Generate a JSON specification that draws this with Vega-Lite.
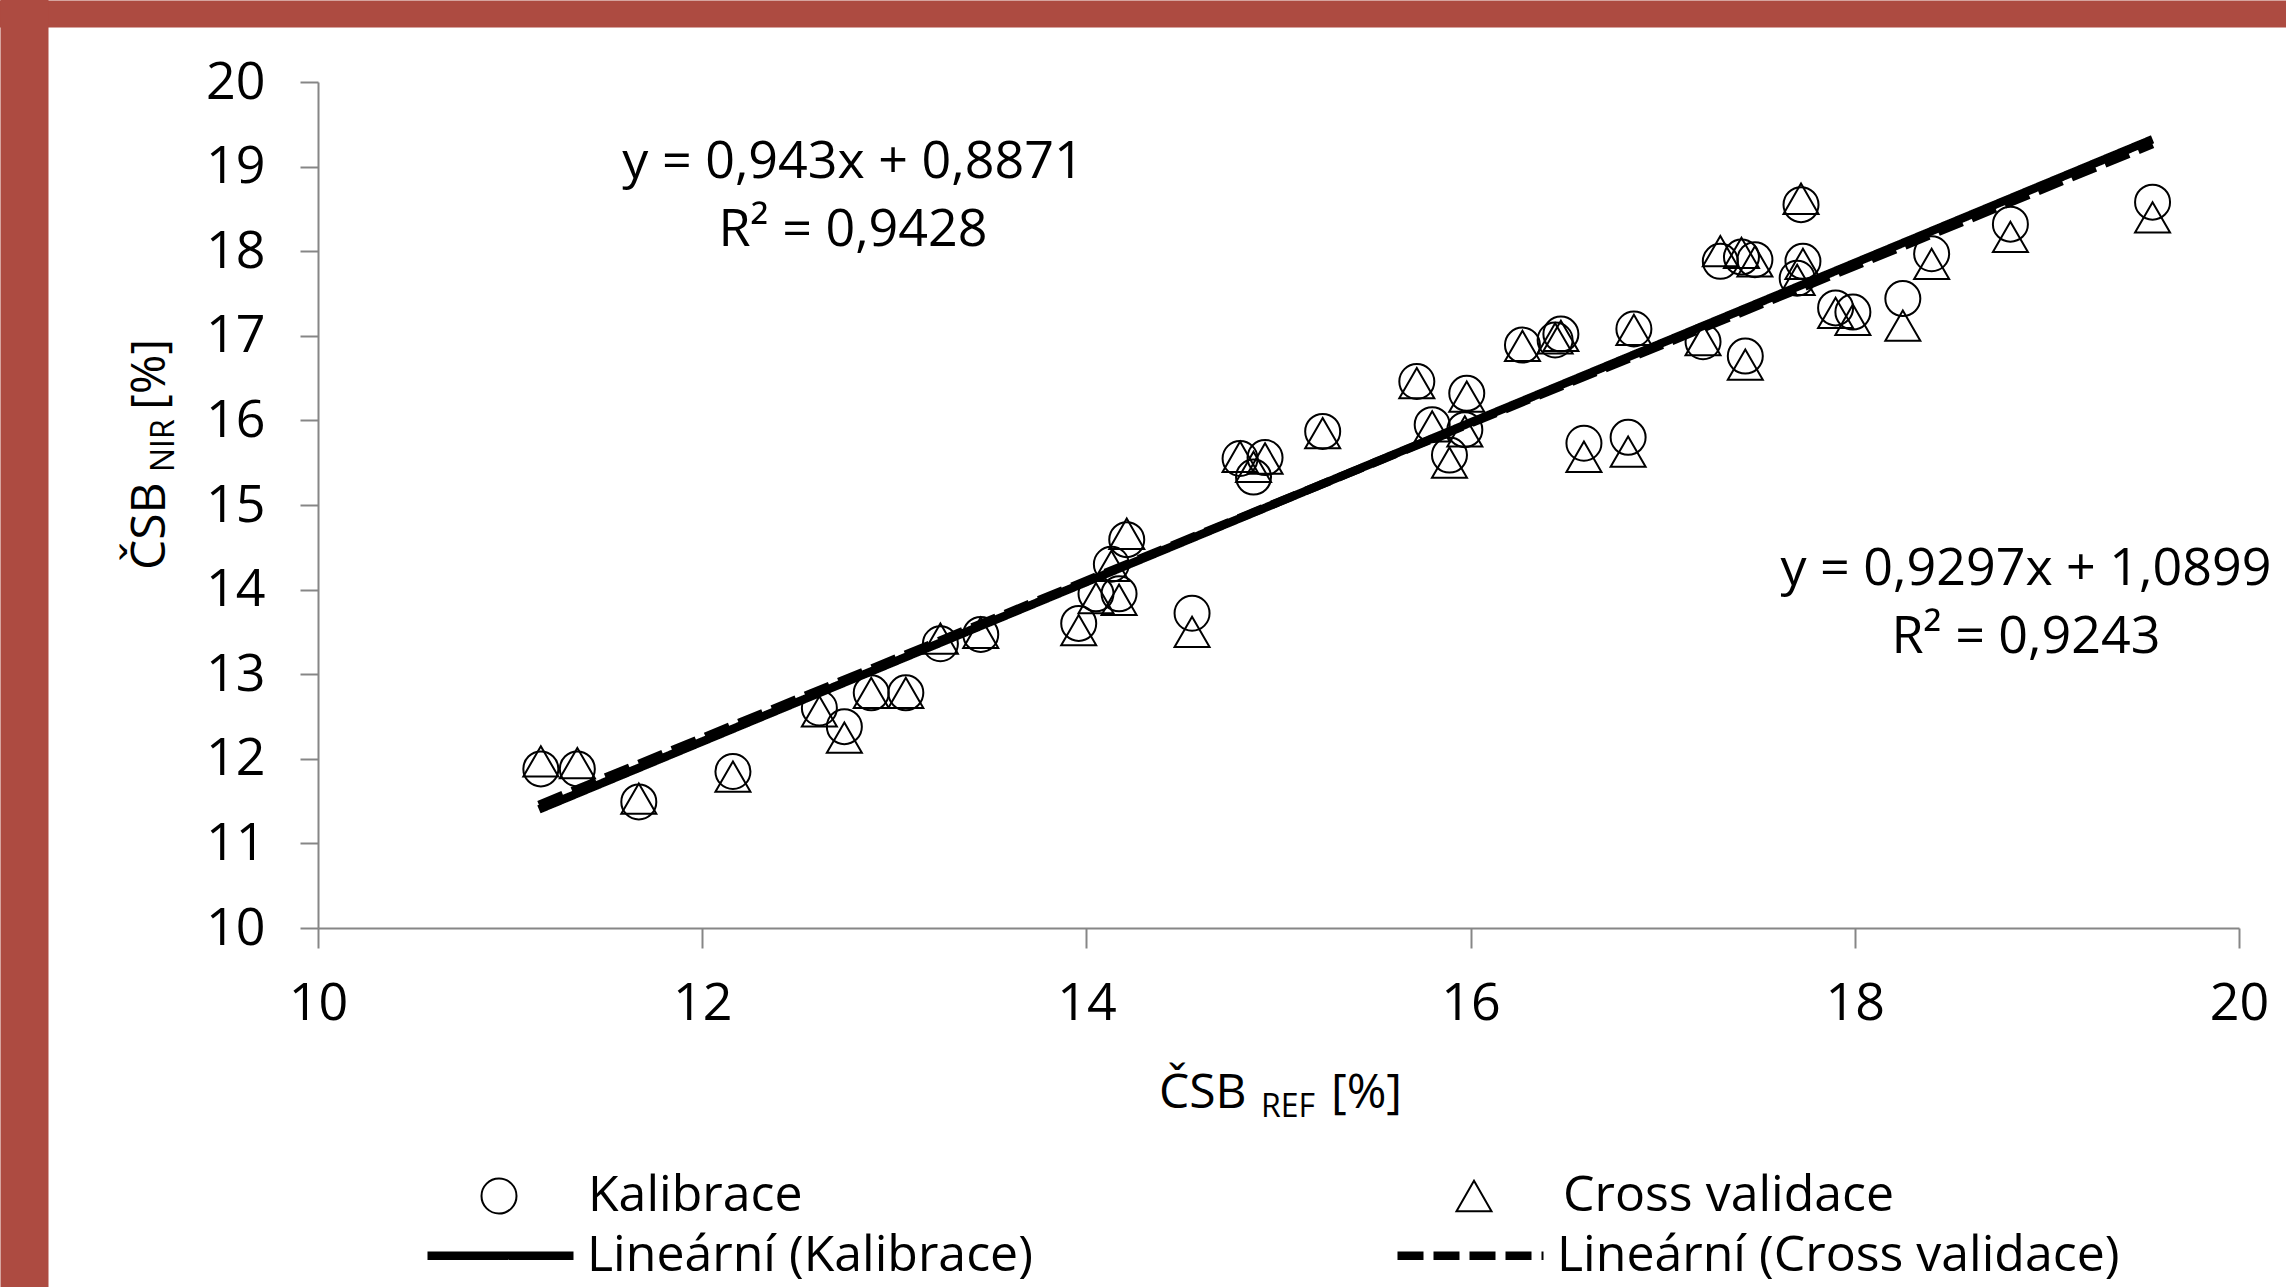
{
  "$schema": "https://vega.github.io/schema/vega-lite/v6.json",
  "autosize": {"type": "none"},
  "width": 1921,
  "height": 846,
  "padding": {"left": 318, "top": 82, "right": 47, "bottom": 359},
  "background": "white",
  "config": {
    "view": {"stroke": null},
    "font": "Open Sans",
    "text": {"font": "Open Sans", "color": "black"}
  },
  "datasets": {
    "points": [
      {"ref": 11.16, "nir": 11.88, "series": "Kalibrace"}, {"ref": 11.16, "nir": 11.97, "series": "Cross validace"},
      {"ref": 11.35, "nir": 11.88, "series": "Kalibrace"}, {"ref": 11.35, "nir": 11.95, "series": "Cross validace"},
      {"ref": 11.67, "nir": 11.49, "series": "Kalibrace"}, {"ref": 11.67, "nir": 11.53, "series": "Cross validace"},
      {"ref": 12.16, "nir": 11.85, "series": "Kalibrace"}, {"ref": 12.16, "nir": 11.79, "series": "Cross validace"},
      {"ref": 12.61, "nir": 12.60, "series": "Kalibrace"}, {"ref": 12.61, "nir": 12.56, "series": "Cross validace"},
      {"ref": 12.74, "nir": 12.38, "series": "Kalibrace"}, {"ref": 12.74, "nir": 12.25, "series": "Cross validace"},
      {"ref": 12.88, "nir": 12.78, "series": "Kalibrace"}, {"ref": 12.88, "nir": 12.78, "series": "Cross validace"},
      {"ref": 13.06, "nir": 12.78, "series": "Kalibrace"}, {"ref": 13.06, "nir": 12.78, "series": "Cross validace"},
      {"ref": 13.24, "nir": 13.36, "series": "Kalibrace"}, {"ref": 13.24, "nir": 13.42, "series": "Cross validace"},
      {"ref": 13.45, "nir": 13.47, "series": "Kalibrace"}, {"ref": 13.45, "nir": 13.49, "series": "Cross validace"},
      {"ref": 13.96, "nir": 13.60, "series": "Kalibrace"}, {"ref": 13.96, "nir": 13.52, "series": "Cross validace"},
      {"ref": 14.05, "nir": 13.95, "series": "Kalibrace"}, {"ref": 14.05, "nir": 13.90, "series": "Cross validace"},
      {"ref": 14.13, "nir": 14.30, "series": "Kalibrace"}, {"ref": 14.13, "nir": 14.28, "series": "Cross validace"},
      {"ref": 14.17, "nir": 13.95, "series": "Kalibrace"}, {"ref": 14.17, "nir": 13.88, "series": "Cross validace"},
      {"ref": 14.21, "nir": 14.59, "series": "Kalibrace"}, {"ref": 14.21, "nir": 14.66, "series": "Cross validace"},
      {"ref": 14.55, "nir": 13.72, "series": "Kalibrace"}, {"ref": 14.55, "nir": 13.50, "series": "Cross validace"},
      {"ref": 14.80, "nir": 15.55, "series": "Kalibrace"}, {"ref": 14.80, "nir": 15.57, "series": "Cross validace"},
      {"ref": 14.87, "nir": 15.33, "series": "Kalibrace"}, {"ref": 14.87, "nir": 15.45, "series": "Cross validace"},
      {"ref": 14.93, "nir": 15.56, "series": "Kalibrace"}, {"ref": 14.93, "nir": 15.55, "series": "Cross validace"},
      {"ref": 15.23, "nir": 15.87, "series": "Kalibrace"}, {"ref": 15.23, "nir": 15.85, "series": "Cross validace"},
      {"ref": 15.72, "nir": 16.46, "series": "Kalibrace"}, {"ref": 15.72, "nir": 16.44, "series": "Cross validace"},
      {"ref": 15.80, "nir": 15.95, "series": "Kalibrace"}, {"ref": 15.80, "nir": 15.93, "series": "Cross validace"},
      {"ref": 15.89, "nir": 15.59, "series": "Kalibrace"}, {"ref": 15.89, "nir": 15.50, "series": "Cross validace"},
      {"ref": 15.97, "nir": 15.89, "series": "Kalibrace"}, {"ref": 15.97, "nir": 15.87, "series": "Cross validace"},
      {"ref": 15.98, "nir": 16.32, "series": "Kalibrace"}, {"ref": 15.98, "nir": 16.28, "series": "Cross validace"},
      {"ref": 16.27, "nir": 16.89, "series": "Kalibrace"}, {"ref": 16.27, "nir": 16.88, "series": "Cross validace"},
      {"ref": 16.44, "nir": 16.95, "series": "Kalibrace"}, {"ref": 16.44, "nir": 16.97, "series": "Cross validace"},
      {"ref": 16.47, "nir": 17.02, "series": "Kalibrace"}, {"ref": 16.47, "nir": 17.00, "series": "Cross validace"},
      {"ref": 16.59, "nir": 15.73, "series": "Kalibrace"}, {"ref": 16.59, "nir": 15.57, "series": "Cross validace"},
      {"ref": 16.82, "nir": 15.80, "series": "Kalibrace"}, {"ref": 16.82, "nir": 15.63, "series": "Cross validace"},
      {"ref": 16.85, "nir": 17.08, "series": "Kalibrace"}, {"ref": 16.85, "nir": 17.07, "series": "Cross validace"},
      {"ref": 17.21, "nir": 16.93, "series": "Kalibrace"}, {"ref": 17.21, "nir": 16.95, "series": "Cross validace"},
      {"ref": 17.30, "nir": 17.88, "series": "Kalibrace"}, {"ref": 17.30, "nir": 18.00, "series": "Cross validace"},
      {"ref": 17.41, "nir": 17.93, "series": "Kalibrace"}, {"ref": 17.41, "nir": 17.98, "series": "Cross validace"},
      {"ref": 17.43, "nir": 16.76, "series": "Kalibrace"}, {"ref": 17.43, "nir": 16.66, "series": "Cross validace"},
      {"ref": 17.48, "nir": 17.90, "series": "Kalibrace"}, {"ref": 17.48, "nir": 17.88, "series": "Cross validace"},
      {"ref": 17.70, "nir": 17.68, "series": "Kalibrace"}, {"ref": 17.70, "nir": 17.66, "series": "Cross validace"},
      {"ref": 17.72, "nir": 18.55, "series": "Kalibrace"}, {"ref": 17.72, "nir": 18.62, "series": "Cross validace"},
      {"ref": 17.73, "nir": 17.88, "series": "Kalibrace"}, {"ref": 17.73, "nir": 17.85, "series": "Cross validace"},
      {"ref": 17.90, "nir": 17.33, "series": "Kalibrace"}, {"ref": 17.90, "nir": 17.27, "series": "Cross validace"},
      {"ref": 17.99, "nir": 17.28, "series": "Kalibrace"}, {"ref": 17.99, "nir": 17.19, "series": "Cross validace"},
      {"ref": 18.25, "nir": 17.44, "series": "Kalibrace"}, {"ref": 18.25, "nir": 17.12, "series": "Cross validace"},
      {"ref": 18.40, "nir": 17.97, "series": "Kalibrace"}, {"ref": 18.40, "nir": 17.85, "series": "Cross validace"},
      {"ref": 18.81, "nir": 18.32, "series": "Kalibrace"}, {"ref": 18.81, "nir": 18.17, "series": "Cross validace"},
      {"ref": 19.55, "nir": 18.58, "series": "Kalibrace"}, {"ref": 19.55, "nir": 18.40, "series": "Cross validace"}
    ],
    "fits": [
      {"ref": 11.15, "nir": 11.402, "series": "Lineární (Kalibrace)"},
      {"ref": 19.55, "nir": 19.323, "series": "Lineární (Kalibrace)"},
      {"ref": 11.15, "nir": 11.456, "series": "Lineární (Cross validace)"},
      {"ref": 19.55, "nir": 19.266, "series": "Lineární (Cross validace)"}
    ],
    "equations": [
      {"fit": "Kalibrace", "label": ["y = 0,943x + 0,8871", "R² = 0,9428"]},
      {"fit": "Cross validace", "label": ["y = 0,9297x + 1,0899", "R² = 0,9243"]}
    ],
    "one": [{}]
  },
  "layer": [
    {
      "data": {"name": "points"},
      "mark": {"type": "point", "filled": false, "color": "black", "strokeWidth": 2, "size": 1225, "opacity": 1},
      "encoding": {
        "x": {
          "field": "ref", "type": "quantitative",
          "scale": {"domain": [10, 20], "nice": false, "zero": false},
          "axis": {
            "orient": "bottom", "values": [10, 12, 14, 16, 18, 20], "title": null, "grid": false,
            "domainColor": "#868686", "domainWidth": 2, "tickColor": "#868686", "tickWidth": 2, "tickSize": 20,
            "labelFont": "Open Sans", "labelFontSize": 52, "labelColor": "black", "labelPadding": 30,
            "labelFlush": false, "labelOverlap": false
          }
        },
        "y": {
          "field": "nir", "type": "quantitative",
          "scale": {"domain": [10, 20], "nice": false, "zero": false},
          "axis": {
            "orient": "left", "values": [10, 11, 12, 13, 14, 15, 16, 17, 18, 19, 20], "title": null, "grid": false,
            "domainColor": "#868686", "domainWidth": 2, "tickColor": "#868686", "tickWidth": 2, "tickSize": 18,
            "labelFont": "Open Sans", "labelFontSize": 52, "labelColor": "black", "labelPadding": 35,
            "labelFlush": false, "labelOverlap": false
          }
        },
        "shape": {
          "field": "series", "type": "nominal",
          "scale": {"domain": ["Kalibrace", "Cross validace"], "range": ["circle", "triangle-up"]},
          "legend": {
            "title": null, "orient": "none", "legendX": 156, "legendY": 1089,
            "direction": "horizontal", "columns": 2, "columnPadding": 646, "labelOffset": 64,
            "symbolSize": 1225, "symbolStrokeWidth": 2, "symbolStrokeColor": "black",
            "labelFont": "Open Sans", "labelFontSize": 50, "labelColor": "black", "labelLimit": 0
          }
        }
      }
    },
    {
      "data": {"name": "equations"},
      "transform": [{"filter": "datum.fit === 'Kalibrace'"}],
      "mark": {"type": "text", "align": "center", "baseline": "middle", "fontSize": 52, "lineHeight": 68, "color": "black"},
      "encoding": {
        "x": {"datum": 12.785, "type": "quantitative", "scale": {"domain": [10, 20], "nice": false, "zero": false}, "axis": null},
        "y": {"datum": 19.054, "type": "quantitative", "scale": {"domain": [10, 20], "nice": false, "zero": false}, "axis": null},
        "text": {"field": "label"}
      }
    },
    {
      "data": {"name": "equations"},
      "transform": [{"filter": "datum.fit === 'Cross validace'"}],
      "mark": {"type": "text", "align": "center", "baseline": "middle", "fontSize": 52, "lineHeight": 68, "color": "black"},
      "encoding": {
        "x": {"datum": 18.891, "type": "quantitative", "scale": {"domain": [10, 20], "nice": false, "zero": false}, "axis": null},
        "y": {"datum": 14.243, "type": "quantitative", "scale": {"domain": [10, 20], "nice": false, "zero": false}, "axis": null},
        "text": {"field": "label"}
      }
    },
    {
      "data": {"name": "one"},
      "mark": {"type": "text", "text": "ČSB", "align": "left", "baseline": "alphabetic", "fontSize": 48, "color": "black"},
      "encoding": {
        "x": {"datum": 14.378, "type": "quantitative", "scale": {"domain": [10, 20], "nice": false, "zero": false}, "axis": null},
        "y": {"datum": 7.872, "type": "quantitative", "scale": {"domain": [10, 20], "nice": false, "zero": false}, "axis": null}
      }
    },
    {
      "data": {"name": "one"},
      "mark": {"type": "text", "text": "REF", "align": "left", "baseline": "alphabetic", "fontSize": 32, "color": "black"},
      "encoding": {
        "x": {"datum": 14.909, "type": "quantitative", "scale": {"domain": [10, 20], "nice": false, "zero": false}, "axis": null},
        "y": {"datum": 7.766, "type": "quantitative", "scale": {"domain": [10, 20], "nice": false, "zero": false}, "axis": null}
      }
    },
    {
      "data": {"name": "one"},
      "mark": {"type": "text", "text": "[%]", "align": "left", "baseline": "alphabetic", "fontSize": 48, "color": "black"},
      "encoding": {
        "x": {"datum": 15.273, "type": "quantitative", "scale": {"domain": [10, 20], "nice": false, "zero": false}, "axis": null},
        "y": {"datum": 7.872, "type": "quantitative", "scale": {"domain": [10, 20], "nice": false, "zero": false}, "axis": null}
      }
    },
    {
      "data": {"name": "one"},
      "mark": {"type": "text", "text": "ČSB", "angle": 270, "align": "left", "baseline": "alphabetic", "fontSize": 48, "color": "black"},
      "encoding": {
        "x": {"datum": 9.204, "type": "quantitative", "scale": {"domain": [10, 20], "nice": false, "zero": false}, "axis": null},
        "y": {"datum": 14.232, "type": "quantitative", "scale": {"domain": [10, 20], "nice": false, "zero": false}, "axis": null}
      }
    },
    {
      "data": {"name": "one"},
      "mark": {"type": "text", "text": "NIR", "angle": 270, "align": "left", "baseline": "alphabetic", "fontSize": 32, "color": "black"},
      "encoding": {
        "x": {"datum": 9.251, "type": "quantitative", "scale": {"domain": [10, 20], "nice": false, "zero": false}, "axis": null},
        "y": {"datum": 15.39, "type": "quantitative", "scale": {"domain": [10, 20], "nice": false, "zero": false}, "axis": null}
      }
    },
    {
      "data": {"name": "one"},
      "mark": {"type": "text", "text": "[%]", "angle": 270, "align": "left", "baseline": "alphabetic", "fontSize": 48, "color": "black"},
      "encoding": {
        "x": {"datum": 9.204, "type": "quantitative", "scale": {"domain": [10, 20], "nice": false, "zero": false}, "axis": null},
        "y": {"datum": 16.123, "type": "quantitative", "scale": {"domain": [10, 20], "nice": false, "zero": false}, "axis": null}
      }
    },
    {
      "data": {"name": "fits"},
      "mark": {"type": "line", "color": "black", "strokeWidth": 8.5, "strokeCap": "butt"},
      "encoding": {
        "x": {
          "field": "ref", "type": "quantitative",
          "scale": {"domain": [10, 20], "nice": false, "zero": false},
          "axis": {
            "orient": "top", "offset": 55, "values": [14.295], "domain": false, "labels": false, "grid": false, "title": null,
            "ticks": true, "tickSize": 27, "tickWidth": 2300, "tickColor": "#AD4B41", "tickCap": "butt", "tickOpacity": 1
          }
        },
        "y": {
          "field": "nir", "type": "quantitative",
          "scale": {"domain": [10, 20], "nice": false, "zero": false},
          "axis": {
            "orient": "left", "offset": 270, "values": [13.363], "domain": false, "labels": false, "grid": false, "title": null,
            "ticks": true, "tickSize": 48, "tickWidth": 1300, "tickColor": "#AD4B41", "tickCap": "butt", "tickOpacity": 1
          }
        },
        "strokeDash": {
          "field": "series", "type": "nominal",
          "scale": {"domain": ["Lineární (Kalibrace)", "Lineární (Cross validace)"], "range": [[1, 0], [26, 10]]},
          "legend": {
            "title": null, "orient": "none", "legendX": 105, "legendY": 1096,
            "direction": "horizontal", "columns": 2, "columnPadding": 347, "labelOffset": 9,
            "symbolType": "stroke", "symbolSize": 21316, "symbolStrokeWidth": 8.5, "symbolStrokeColor": "black",
            "labelFont": "Open Sans", "labelFontSize": 50, "labelColor": "black", "labelLimit": 0
          }
        }
      }
    }
  ],
  "resolve": {"axis": {"x": "independent", "y": "independent"}}
}
